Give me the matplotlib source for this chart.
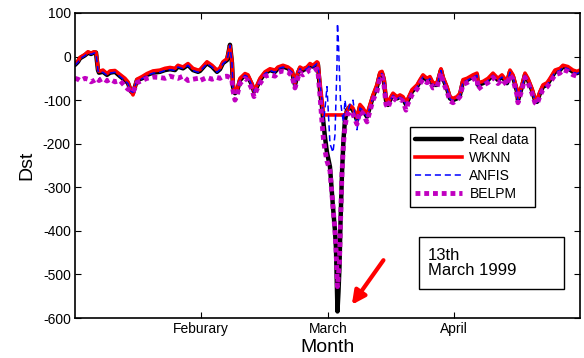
import matplotlib
matplotlib.use("Agg")
import matplotlib.pyplot as plt
from matplotlib.patches import Rectangle

plt.rcParams['font.family'] = ['Liberation Sans', 'DejaVu Sans']
plt.rcParams['axes.unicode_minus'] = False

# time index (samples along the period)
t = [0, 3, 5, 10, 13, 16, 19, 21, 22, 23, 24, 28, 32, 35, 40, 45, 50, 53, 56, 58,
     62, 67, 72, 78, 85, 90, 95, 100, 103, 108, 113, 118, 123, 125, 132, 137, 142, 145, 148, 152,
     153, 155, 157, 158, 160, 162, 165, 170, 173, 177, 179, 182, 185, 190, 195, 200, 203, 208, 213, 217,
     220, 223, 225, 228, 232, 235, 238, 242, 243, 245, 247, 248.5, 250, 252, 255, 258, 260, 261, 262, 262.5,
     263.5, 264.5, 265.5, 267, 268.5, 270, 272, 275, 278, 282, 285, 288, 292, 295, 298, 302, 305, 307, 309, 311,
     313, 315, 318, 322, 325, 328, 331, 333, 337, 342, 345, 348, 352, 355, 358, 362, 366, 368, 372, 375,
     378, 382, 385, 388, 392, 395, 398, 402, 403, 408, 413, 418, 423, 427, 432, 435, 438, 442, 443, 447,
     450, 453, 457, 460, 462, 465, 468, 472, 475, 480, 485, 488, 493, 498, 502, 505]

real_data = [-19, -12, -4, 3, 9, 6, 9, 9, -10, -31, -37, -35, -42, -37, -35, -45, -54, -61, -80, -84,
             -54, -50, -42, -37, -35, -31, -29, -31, -23, -27, -19, -31, -35, -33, -15, -23, -35, -29, -15, -8,
             3, 27, -15, -69, -84, -80, -54, -42, -46, -65, -80, -69, -54, -38, -31, -35, -27, -23, -27, -35,
             -65, -38, -27, -31, -27, -19, -23, -15, -19, -77, -115, -153, -185, -220, -253, -345, -400, -440, -540, -585,
             -540, -482, -383, -268, -191, -146, -123, -115, -123, -146, -115, -123, -138, -115, -92, -69, -40, -38, -55, -100,
             -111, -100, -88, -96, -92, -96, -110, -100, -80, -69, -57, -46, -54, -50, -65, -65, -31, -50, -73, -96,
             -100, -96, -88, -57, -54, -50, -46, -42, -65, -61, -54, -42, -54, -46, -61, -35, -46, -80, -100, -69,
             -42, -54, -77, -100, -104, -84, -69, -65, -54, -35, -31, -23, -27, -35, -38, -35]

wknn = [-16, -10, -2, 5, 11, 8, 11, 10, -6, -28, -34, -31, -39, -33, -32, -41, -50, -58, -78, -88,
        -52, -46, -39, -33, -31, -27, -25, -27, -20, -24, -16, -27, -31, -30, -12, -20, -31, -26, -12, -5,
        5, 24, -10, -62, -80, -78, -50, -39, -42, -62, -78, -66, -50, -35, -28, -31, -24, -20, -24, -31,
        -60, -35, -24, -28, -24, -16, -20, -12, -14, -60, -100, -134, -134, -134, -134, -134, -134, -134, -134, -134,
        -134, -134, -134, -134, -134, -134, -125, -112, -118, -140, -110, -118, -133, -110, -88, -64, -36, -34, -50, -95,
        -106, -96, -84, -92, -88, -92, -104, -96, -76, -65, -53, -42, -50, -46, -60, -61, -28, -46, -69, -92,
        -96, -92, -84, -53, -50, -46, -42, -38, -60, -57, -50, -38, -50, -42, -57, -31, -42, -75, -95, -65,
        -38, -50, -73, -96, -100, -80, -65, -60, -50, -31, -27, -20, -23, -31, -34, -31]

anfis = [-20, -13, -5, 2, 8, 5, 8, 8, -12, -32, -38, -36, -43, -38, -36, -46, -55, -62, -80, -82,
         -55, -51, -43, -38, -36, -32, -30, -32, -24, -28, -20, -32, -36, -34, -16, -24, -36, -30, -16, -9,
         2, 26, -16, -70, -84, -80, -55, -43, -47, -66, -80, -70, -55, -39, -32, -36, -28, -24, -28, -36,
         -64, -39, -28, -32, -28, -20, -24, -16, -20, -61, -100, -150, -120, -69, -200, -220, -180, -100, -20, 76,
         30, -40, -100, -130, -150, -100, -134, -110, -100, -168, -118, -124, -138, -116, -93, -70, -41, -39, -56, -100,
         -111, -101, -89, -97, -93, -97, -110, -101, -81, -70, -58, -47, -55, -51, -66, -66, -32, -51, -74, -97,
         -101, -97, -89, -58, -55, -51, -47, -43, -66, -62, -55, -43, -55, -47, -62, -36, -47, -81, -101, -70,
         -43, -55, -78, -101, -105, -85, -70, -66, -55, -36, -32, -24, -28, -36, -39, -36]

belpm = [-50, -52, -55, -50, -52, -58, -55, -52, -50, -52, -55, -50, -56, -52, -58, -55, -68, -75, -78, -82,
         -60, -55, -50, -47, -48, -50, -45, -48, -50, -45, -55, -52, -50, -55, -48, -52, -48, -50, -46, -45,
         -46, -48, -55, -78, -100, -90, -62, -50, -55, -75, -92, -75, -62, -45, -42, -45, -36, -33, -35, -45,
         -72, -48, -36, -42, -36, -30, -34, -28, -35, -90, -150, -190, -215, -240, -262, -345, -400, -440, -500, -528,
         -500, -470, -383, -268, -200, -160, -135, -125, -133, -155, -125, -130, -150, -125, -100, -80, -48, -45, -65, -110,
         -118, -105, -95, -102, -98, -102, -123, -108, -88, -75, -62, -52, -60, -56, -72, -70, -38, -58, -80, -102,
         -106, -100, -92, -64, -60, -56, -52, -48, -75, -66, -60, -48, -62, -52, -66, -42, -52, -88, -106, -76,
         -48, -60, -84, -106, -110, -90, -76, -70, -60, -42, -38, -30, -34, -42, -45, -42]

month_ticks = [126, 253, 379]
month_labels = ['Feburary', 'March', 'April']
y_ticks = [100, 0, -100, -200, -300, -400, -500, -600]

fig = plt.figure(figsize=(5.84, 3.58), dpi=100)
ax = fig.add_axes([0.1284, 0.1117, 0.8647, 0.852])

ax.plot(t, real_data, color='black', lw=3.2, label='Real data', solid_capstyle='round')
ax.plot(t, wknn, color='red', lw=2.6, label='WKNN')
ax.plot(t, anfis, color='blue', lw=1.1, dashes=(4, 2.5), label='ANFIS')
ax.plot(t, belpm, color='#c000c0', lw=3.5, dashes=(1, 0.8), label='BELPM')

ax.set_xlim(0, 505)
ax.set_ylim(-600, 100)
ax.set_xticks(month_ticks)
ax.set_xticklabels(month_labels)
ax.set_yticks(y_ticks)
ax.tick_params(direction='in', length=4, width=0.8, top=True, right=True, labelsize=10, pad=3)
for s in ax.spines.values():
    s.set_linewidth(1.2)

ax.set_xlabel('Month', fontsize=14, labelpad=2)
ax.set_ylabel('Dst', fontsize=14, labelpad=5)

leg = ax.legend(loc='upper left', bbox_to_anchor=(0.649, 0.649), fontsize=10, handlelength=3.4,
                labelspacing=0.3, borderpad=0.4, handletextpad=0.5, fancybox=False,
                edgecolor='black', framealpha=1)
leg.get_frame().set_linewidth(1.0)

ax.add_patch(Rectangle((0.681, 0.095), 0.287, 0.171, transform=ax.transAxes,
                       fill=False, edgecolor='black', lw=1.0))
ax.text(0.699, 0.180, '13th\nMarch 1999', transform=ax.transAxes, fontsize=12,
        ha='left', va='center', linespacing=1.05)

ax.annotate('', xy=(0.545, 0.036), xytext=(0.614, 0.197), xycoords='axes fraction',
            arrowprops=dict(arrowstyle='-|>', color='red', lw=3, mutation_scale=20))

fig.savefig('out.png', dpi=100)
